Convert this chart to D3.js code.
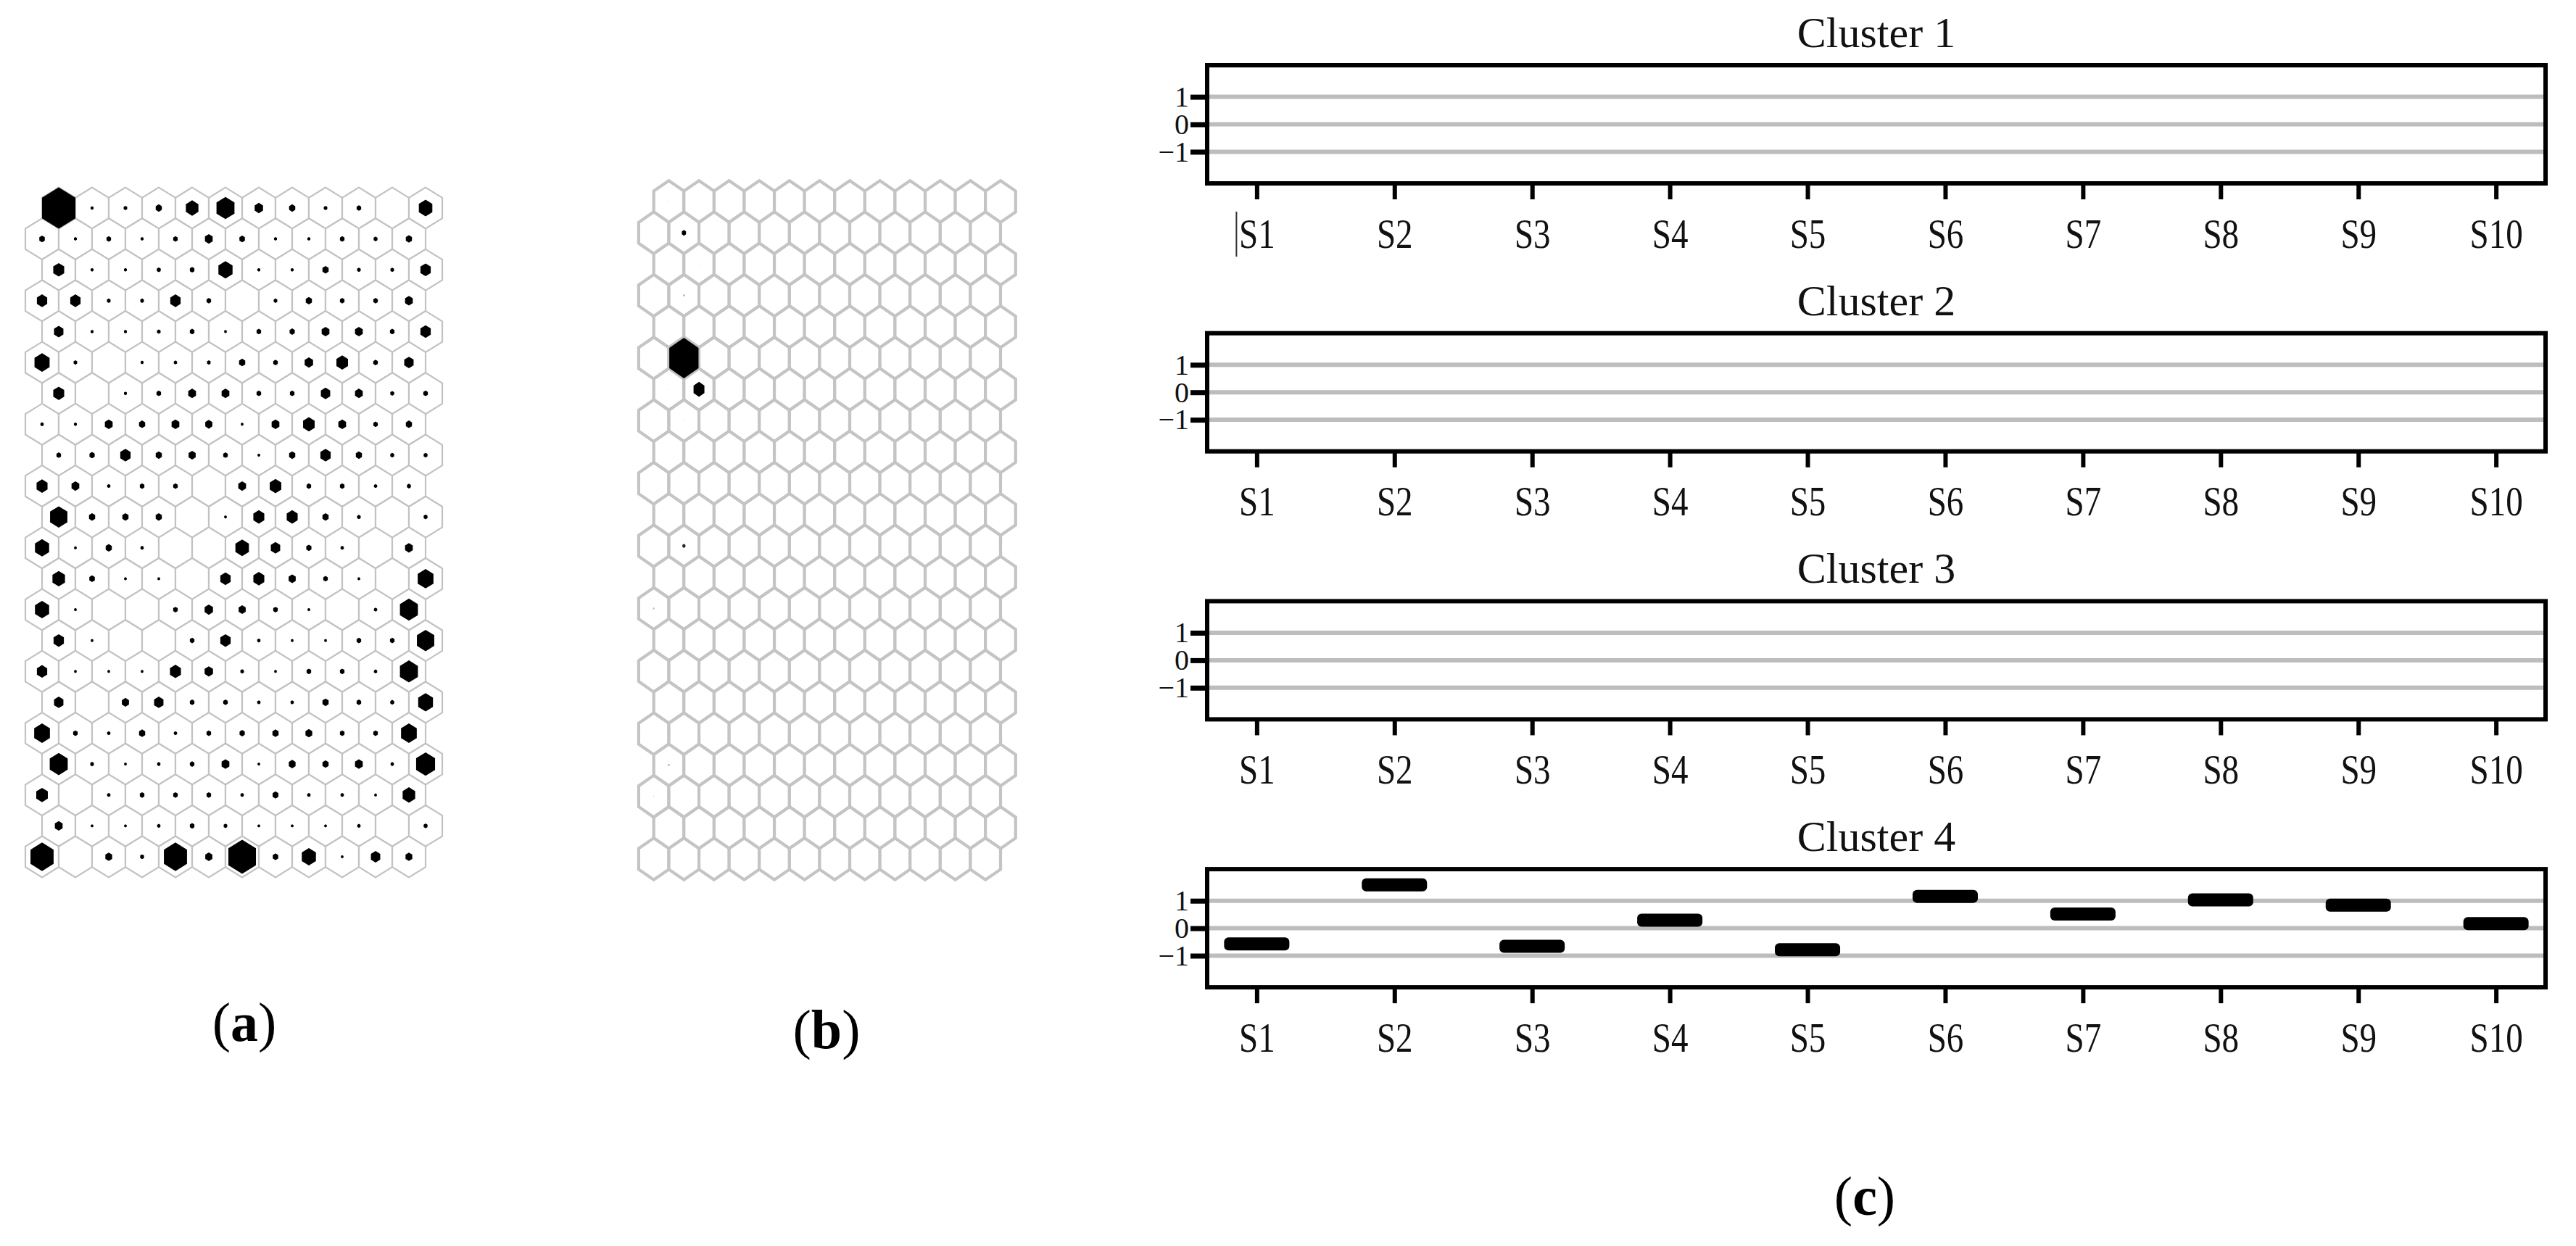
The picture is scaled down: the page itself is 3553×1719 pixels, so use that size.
<!DOCTYPE html>
<html>
<head>
<meta charset="utf-8">
<script src="https://cdn.jsdelivr.net/npm/d3@7"></script>
<style>
  html, body { margin: 0; padding: 0; background: #ffffff; }
  svg { display: block; }
</style>
</head>
<body>
<svg id="chart" width="3553" height="1719"></svg>
<script>
// ---------------- DATA ----------------
// Panel (a): SOM hit map, 22 rows x 12 columns, relative size of the black hexagon in each cell
const somA = [
  [1.00, 0.05, 0.07, 0.15, 0.35, 0.52, 0.22, 0.15, 0.07, 0.10, 0.00, 0.38],
  [0.13, 0.05, 0.10, 0.05, 0.10, 0.20, 0.13, 0.05, 0.05, 0.10, 0.08, 0.15],
  [0.30, 0.05, 0.05, 0.08, 0.10, 0.40, 0.05, 0.05, 0.15, 0.07, 0.07, 0.28],
  [0.28, 0.28, 0.07, 0.07, 0.28, 0.10, 0.00, 0.07, 0.15, 0.10, 0.10, 0.20],
  [0.25, 0.05, 0.05, 0.07, 0.10, 0.04, 0.10, 0.12, 0.20, 0.20, 0.10, 0.28],
  [0.43, 0.07, 0.00, 0.05, 0.06, 0.07, 0.15, 0.10, 0.22, 0.32, 0.10, 0.25],
  [0.30, 0.00, 0.05, 0.10, 0.20, 0.20, 0.10, 0.10, 0.25, 0.20, 0.08, 0.10],
  [0.06, 0.05, 0.20, 0.15, 0.20, 0.18, 0.04, 0.20, 0.32, 0.20, 0.10, 0.15],
  [0.10, 0.12, 0.28, 0.15, 0.18, 0.10, 0.04, 0.15, 0.28, 0.15, 0.08, 0.08],
  [0.30, 0.20, 0.06, 0.10, 0.10, 0.00, 0.20, 0.32, 0.10, 0.10, 0.06, 0.08],
  [0.50, 0.15, 0.15, 0.15, 0.00, 0.04, 0.30, 0.30, 0.15, 0.07, 0.00, 0.08],
  [0.40, 0.04, 0.15, 0.06, 0.00, 0.00, 0.38, 0.25, 0.12, 0.06, 0.00, 0.20],
  [0.35, 0.13, 0.04, 0.04, 0.00, 0.28, 0.30, 0.18, 0.10, 0.04, 0.00, 0.45],
  [0.40, 0.04, 0.00, 0.00, 0.10, 0.22, 0.18, 0.10, 0.04, 0.00, 0.06, 0.52],
  [0.28, 0.04, 0.00, 0.00, 0.10, 0.28, 0.06, 0.04, 0.04, 0.10, 0.10, 0.50],
  [0.28, 0.04, 0.04, 0.04, 0.30, 0.22, 0.07, 0.04, 0.10, 0.10, 0.06, 0.52],
  [0.25, 0.00, 0.18, 0.25, 0.10, 0.10, 0.06, 0.06, 0.15, 0.10, 0.08, 0.42],
  [0.45, 0.10, 0.06, 0.15, 0.06, 0.10, 0.12, 0.15, 0.17, 0.10, 0.10, 0.45],
  [0.52, 0.07, 0.04, 0.06, 0.10, 0.20, 0.04, 0.17, 0.15, 0.20, 0.06, 0.55],
  [0.32, 0.00, 0.06, 0.10, 0.10, 0.10, 0.06, 0.14, 0.06, 0.06, 0.04, 0.35],
  [0.20, 0.04, 0.04, 0.06, 0.10, 0.07, 0.04, 0.04, 0.04, 0.06, 0.00, 0.08],
  [0.68, 0.00, 0.17, 0.08, 0.68, 0.18, 0.82, 0.13, 0.40, 0.04, 0.25, 0.17]
];

// Panel (b): SOM map of one cluster; only these cells carry a mark
const somBRows = [0, 1, 2, 3, 5, 6, 6, 7, 11, 13, 18, 19];
const somBCols = [0, 1, 1, 1, 1, 0, 1, 1, 1, 0, 0, 0];
const somBSize = [0.04, 0.14, 0.04, 0.05, 0.97, 0.04, 0.36, 0.04, 0.10, 0.05, 0.06, 0.04];
const somBShade = ["#eeeeee", "#000000", "#eeeeee", "#999999", "#000000", "#eeeeee",
                   "#000000", "#eeeeee", "#222222", "#bbbbbb", "#bbbbbb", "#dddddd"];

// Panel (c): cluster profiles over samples
const clusterNames = ["Cluster 1", "Cluster 2", "Cluster 3", "Cluster 4"];
const samples = ["S1", "S2", "S3", "S4", "S5", "S6", "S7", "S8", "S9", "S10"];
const cluster1Values = [];
const cluster2Values = [];
const cluster3Values = [];
const cluster4Values = [-0.57, 1.58, -0.66, 0.29, -0.78, 1.16, 0.52, 1.03, 0.84, 0.17];
const clusterValues = [cluster1Values, cluster2Values, cluster3Values, cluster4Values];
const yTickValues = [1, 0, -1];
const panelLetters = ["a", "b", "c"];

// ---------------- DRAWING ----------------
const svg = d3.select("#chart");
const SERIF = "'Liberation Serif', 'Times New Roman', 'DejaVu Serif', serif";

const hexLine = d3.line().curve(d3.curveLinearClosed);
function hexPoints(a, b) {
  return [[0, -b], [a, -b / 2], [a, b / 2], [0, b], [-a, b / 2], [-a, -b / 2]];
}

function drawSom(g, nRows, nCols, x, y, a, b, stroke, strokeW) {
  const cells = [];
  for (let r = 0; r < nRows; r++) for (let c = 0; c < nCols; c++) cells.push({ r, c });
  g.append("g").selectAll("path").data(cells).join("path")
    .attr("transform", d => `translate(${x(d.c - 0.5 * (d.r % 2))},${y(d.r)})`)
    .attr("d", hexLine(hexPoints(a, b)))
    .attr("fill", "#ffffff")
    .attr("stroke", stroke)
    .attr("stroke-width", strokeW)
    .attr("stroke-linejoin", "miter");
}

// Panel (a)
{
  const g = svg.append("g");
  const nRows = somA.length, nCols = somA[0].length;
  const x = d3.scaleLinear().domain([0, nCols - 1]).range([81, 587]);
  const y = d3.scaleLinear().domain([0, nRows - 1]).range([287, 1182]);
  const a = (x(1) - x(0)) / 2;
  const b = (y(1) - y(0)) / 1.5;
  drawSom(g, nRows, nCols, x, y, a, b, "#c2c2c2", 2.2);
  const size = d3.scaleLinear().domain([0, 1]).range([0.04, 1]);
  const marks = [];
  somA.forEach((row, r) => row.forEach((v, c) => { if (v > 0) marks.push({ r, c, v }); }));
  g.append("g").selectAll("path").data(marks).join("path")
    .attr("transform", d => `translate(${x(d.c - 0.5 * (d.r % 2))},${y(d.r)})`)
    .attr("d", d => hexLine(hexPoints(a * size(d.v), b * size(d.v))))
    .attr("fill", "#000000");
}

// Panel (b)
{
  const g = svg.append("g");
  const nRows = 22, nCols = 12;
  const x = d3.scaleLinear().domain([0, nCols - 1]).range([922.5, 1380]);
  const y = d3.scaleLinear().domain([0, nRows - 1]).range([278, 1185]);
  const a = (x(1) - x(0)) / 2;
  const b = (y(1) - y(0)) / 1.5;
  drawSom(g, nRows, nCols, x, y, a, b, "#c4c4c4", 4.2);
  const size = d3.scaleLinear().domain([0, 1]).range([0, 1]);
  const marks = somBRows.map((r, i) => ({ r, c: somBCols[i], v: somBSize[i], col: somBShade[i] }));
  g.append("g").selectAll("path").data(marks).join("path")
    .attr("transform", d => `translate(${x(d.c - 0.5 * (d.r % 2))},${y(d.r)})`)
    .attr("d", d => hexLine(hexPoints(a * size(d.v), b * size(d.v))))
    .attr("fill", d => d.col);
}

// Panel (c)
{
  const left = 1665, right = 3511, boxH = 163, firstTop = 90, gap = 369.7;
  const xS = d3.scalePoint().domain(samples).range([left, right]).padding(0.36);
  clusterNames.forEach((name, i) => {
    const top = firstTop + i * gap, bottom = top + boxH;
    const y = d3.scaleLinear().domain([-2.15, 2.15]).range([bottom, top]);
    const g = svg.append("g");

    // title
    g.append("text")
      .attr("x", (left + right) / 2).attr("y", top - 25)
      .attr("text-anchor", "middle")
      .attr("font-family", SERIF).attr("font-size", 60)
      .attr("fill", "#111").text(name);

    // grid lines
    g.append("g").selectAll("line").data(yTickValues).join("line")
      .attr("x1", left).attr("x2", right)
      .attr("y1", d => y(d)).attr("y2", d => y(d))
      .attr("stroke", "#bdbdbd").attr("stroke-width", 6);

    // y axis
    const ya = g.append("g").attr("transform", `translate(${left},0)`)
      .call(d3.axisLeft(y).tickValues(yTickValues).tickFormat(d3.format("d"))
        .tickSize(23).tickPadding(2));
    ya.select(".domain").remove();
    ya.selectAll(".tick line").attr("stroke", "#000").attr("stroke-width", 7);
    ya.selectAll(".tick text").attr("font-family", SERIF).attr("font-size", 40).attr("fill", "#111");

    // x axis
    const xa = g.append("g").attr("transform", `translate(0,${bottom})`)
      .call(d3.axisBottom(xS).tickSize(22).tickPadding(27));
    xa.select(".domain").remove();
    xa.selectAll(".tick line").attr("stroke", "#000").attr("stroke-width", 6);
    xa.selectAll(".tick text").attr("font-family", SERIF).attr("font-size", 56)
      .attr("fill", "#111").attr("transform", "scale(0.84,1)");

    // frame
    g.append("rect").attr("x", left).attr("y", top)
      .attr("width", right - left).attr("height", boxH)
      .attr("fill", "none").attr("stroke", "#000").attr("stroke-width", 6);

    // values
    const vals = clusterValues[i];
    g.append("g").selectAll("rect").data(vals.map((v, k) => ({ s: samples[k], v })))
      .join("rect")
      .attr("x", d => xS(d.s) - 45).attr("y", d => y(d.v) - 9)
      .attr("width", 90).attr("height", 18).attr("rx", 6)
      .attr("fill", "#000");

    if (i === 0) {
      // stray vertical stroke left of the first label
      g.append("line").attr("x1", xS(samples[0]) - 28).attr("x2", xS(samples[0]) - 28)
        .attr("y1", bottom + 39).attr("y2", bottom + 101)
        .attr("stroke", "#333").attr("stroke-width", 2);
    }
  });
}

// panel letters
const letterPos = [[337, 1436], [1140, 1446], [2572, 1676]];
panelLetters.forEach((l, i) => {
  const t = svg.append("text")
    .attr("x", letterPos[i][0]).attr("y", letterPos[i][1])
    .attr("text-anchor", "middle")
    .attr("font-family", SERIF).attr("font-size", 76).attr("fill", "#000");
  t.append("tspan").text("(");
  t.append("tspan").attr("font-weight", "bold").text(l);
  t.append("tspan").text(")");
});
</script>
</body>
</html>
